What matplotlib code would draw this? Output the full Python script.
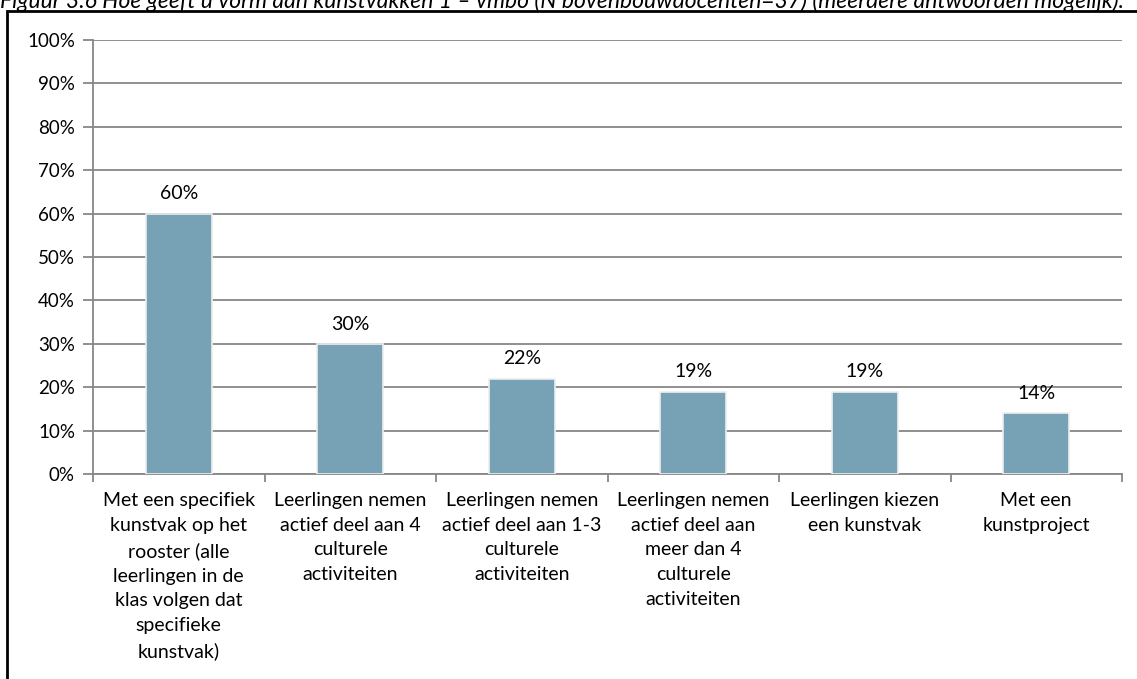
import matplotlib
matplotlib.use("Agg")
import matplotlib.pyplot as plt
from matplotlib.patches import Rectangle

categories = [
    "Met een specifiek\nkunstvak op het\nrooster (alle\nleerlingen in de\nklas volgen dat\nspecifieke\nkunstvak)",
    "Leerlingen nemen\nactief deel aan 4\nculturele\nactiviteiten",
    "Leerlingen nemen\nactief deel aan 1-3\nculturele\nactiviteiten",
    "Leerlingen nemen\nactief deel aan\nmeer dan 4\nculturele\nactiviteiten",
    "Leerlingen kiezen\neen kunstvak",
    "Met een\nkunstproject",
]
values = [60, 30, 22, 19, 19, 14]
yticks = [0, 10, 20, 30, 40, 50, 60, 70, 80, 90, 100]
title = "Figuur 3.6 Hoe geeft u vorm aan kunstvakken 1 \u2013 vmbo (N bovenbouwdocenten=37) (meerdere antwoorden mogelijk)."

plt.rcParams['font.family'] = ['Lato', 'DejaVu Sans']
W, H = 1137, 679
fig = plt.figure(figsize=(W / 100, H / 100), dpi=100)

# outer frame
fig.patches.append(Rectangle((7 / W, -0.05), 1.2, (H - 11) / H + 0.05, transform=fig.transFigure,
                             fill=False, edgecolor='black', linewidth=2))
fig.text(0, 1 - 1 / H, title, ha='left', va='center', fontsize=16.5, style='italic', color='black')

left, right = 93 / W, 1122 / W
bottom, top = 1 - 474 / H, 1 - 40 / H
ax = fig.add_axes([left, bottom, right - left, top - bottom])

x = list(range(len(values)))
ax.bar(x, values, width=0.385, color='#77A2B6', edgecolor='#eeeeee', linewidth=1.2, zorder=3)
for xi, v in zip(x, values):
    ax.text(xi, v + 2.6, f"{v}%", ha='center', va='bottom', fontsize=14, color='black')

ax.set_xlim(-0.5, len(values) - 0.5)
ax.set_ylim(0, 100)
ax.set_yticks(yticks)
ax.set_yticklabels([f"{t}%" for t in yticks], fontsize=13.5)
ax.yaxis.grid(True, color='#878787', linewidth=1.3, zorder=0)
ax.set_xticks(x)
ax.set_xticklabels(categories, fontsize=14, linespacing=1.55, va='top')
ax.set_xticks([i - 0.5 for i in range(len(values) + 1)], minor=True)
ax.tick_params(axis='x', which='major', length=0, pad=13)
ax.tick_params(axis='x', which='minor', length=6, color='#878787', width=1.3)
ax.tick_params(axis='y', length=7, color='#878787', width=1.3, pad=6)
for s in ['top', 'right']:
    ax.spines[s].set_visible(False)
for s in ['left', 'bottom']:
    ax.spines[s].set_color('#878787')
    ax.spines[s].set_linewidth(1.3)

fig.savefig("out.png", dpi=100)
